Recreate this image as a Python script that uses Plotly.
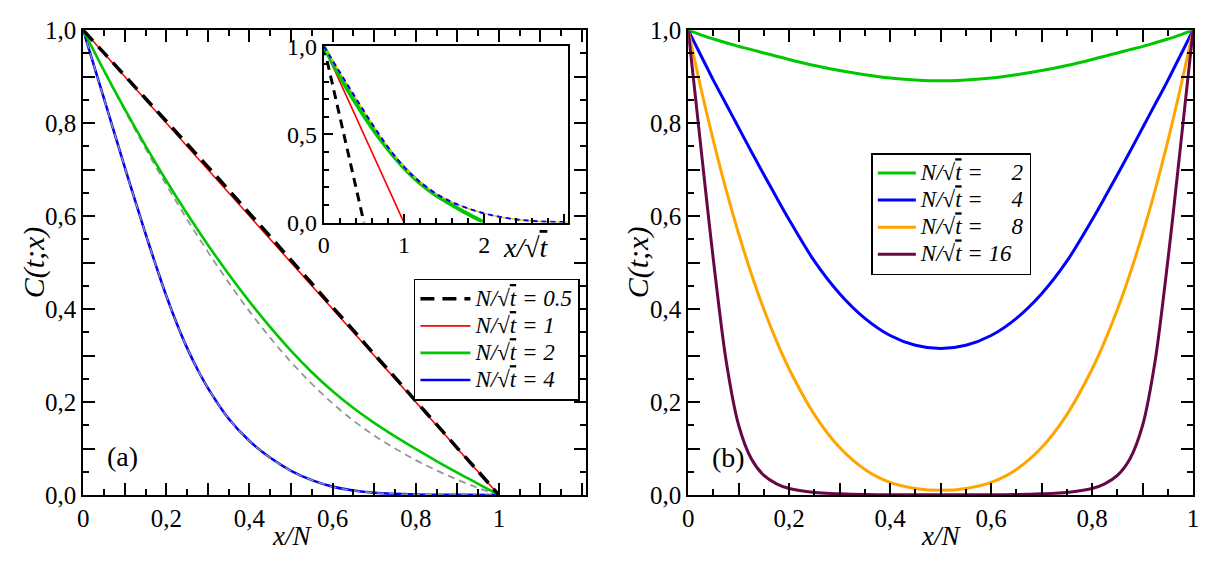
import plotly.graph_objects as go

W, H = 1211, 569
FONT = "Liberation Serif, Times New Roman, Times, DejaVu Serif, serif"

# ---------------- panel (a): C(t;x) vs x/N ----------------
xa = [0.0, 0.05, 0.1, 0.15, 0.2, 0.25, 0.3, 0.35, 0.4, 0.45, 0.5,
      0.55, 0.6, 0.65, 0.7, 0.75, 0.8, 0.85, 0.9, 0.95, 1.0]
ca_05 = [1.0, 0.951, 0.902, 0.853, 0.804, 0.755, 0.706, 0.656, 0.606, 0.556, 0.505,
         0.455, 0.404, 0.354, 0.303, 0.253, 0.202, 0.152, 0.101, 0.051, 0.0]
ca_1 = [1.0, 0.95, 0.9, 0.85, 0.8, 0.75, 0.7, 0.65, 0.6, 0.55, 0.5,
        0.45, 0.4, 0.35, 0.3, 0.25, 0.2, 0.15, 0.1, 0.05, 0.0]
ca_2 = [1.0, 0.913, 0.830, 0.751, 0.676, 0.605, 0.538, 0.475, 0.416, 0.361, 0.310,
        0.264, 0.223, 0.187, 0.155, 0.126, 0.099, 0.073, 0.048, 0.024, 0.0]
ca_2_ref = [1.0, 0.912, 0.827, 0.745, 0.667, 0.593, 0.523, 0.457, 0.395, 0.338, 0.286,
            0.239, 0.197, 0.160, 0.128, 0.100, 0.075, 0.053, 0.033, 0.015, 0.0]
xa4 = [0.0, 0.02, 0.04, 0.06, 0.08, 0.1, 0.12, 0.14, 0.16, 0.18, 0.2, 0.225, 0.25,
       0.275, 0.3, 0.35, 0.4, 0.45, 0.5, 0.55, 0.6, 0.65, 0.7, 0.8, 0.9, 1.0]
ca_4 = [1.0, 0.941, 0.882, 0.823, 0.764, 0.705, 0.647, 0.590, 0.534, 0.480, 0.428, 0.369, 0.316,
        0.270, 0.230, 0.164, 0.116, 0.080, 0.052, 0.032, 0.018, 0.0095, 0.0048, 0.0012, 0.0003, 0.0]
ratios_a = [0.5, 1, 2, 4]  # N/sqrt(t); inset abscissa x/sqrt(t) = ratio * x/N

# ---------------- panel (b): C(t;x) vs x/N ----------------
xb = [0.0, 0.0125, 0.025, 0.0375, 0.05, 0.075, 0.1, 0.125, 0.15, 0.175, 0.2, 0.25,
      0.3, 0.35, 0.4, 0.45, 0.5, 0.55, 0.6, 0.65, 0.7, 0.75, 0.8, 0.825, 0.85,
      0.875, 0.9, 0.925, 0.95, 0.9625, 0.975, 0.9875, 1.0]
cb_2 = [1.0, 0.995, 0.99, 0.985, 0.981, 0.973, 0.965, 0.958, 0.951, 0.944, 0.937, 0.924,
        0.913, 0.904, 0.897, 0.893, 0.891, 0.893, 0.897, 0.904, 0.913, 0.924, 0.937, 0.944,
        0.951, 0.958, 0.965, 0.973, 0.981, 0.985, 0.99, 0.995, 1.0]
cb_4 = [1.0, 0.973, 0.946, 0.919, 0.892, 0.841, 0.790, 0.739, 0.689, 0.640, 0.592, 0.503,
        0.433, 0.380, 0.343, 0.322, 0.315, 0.322, 0.343, 0.380, 0.433, 0.503, 0.592, 0.640,
        0.689, 0.739, 0.790, 0.841, 0.892, 0.919, 0.946, 0.973, 1.0]
cb_8 = [1.0, 0.937, 0.876, 0.818, 0.762, 0.657, 0.562, 0.476, 0.399, 0.331, 0.271, 0.173,
        0.102, 0.055, 0.027, 0.014, 0.01, 0.014, 0.027, 0.055, 0.102, 0.173, 0.271, 0.331,
        0.399, 0.476, 0.562, 0.657, 0.762, 0.818, 0.876, 0.937, 1.0]
cb_16 = [1.0, 0.875, 0.75, 0.625, 0.505, 0.29, 0.15, 0.078, 0.042, 0.024, 0.014, 0.0055,
         0.0025, 0.001, 0.0005, 0.0003, 0.0003, 0.0003, 0.0005, 0.001, 0.0025, 0.0055, 0.014, 0.024,
         0.042, 0.078, 0.15, 0.29, 0.505, 0.625, 0.75, 0.875, 1.0]

# ---------------- ticks ----------------
y_tickvals = [0.0, 0.1, 0.2, 0.3, 0.4, 0.5, 0.6, 0.7, 0.8, 0.9, 1.0]
y_ticktext = ["0,0", "", "0,2", "", "0,4", "", "0,6", "", "0,8", "", "1,0"]
xa_tickvals = [0.0, 0.1, 0.2, 0.3, 0.4, 0.5, 0.6, 0.7, 0.8, 0.9, 1.0, 1.1, 1.2]
xa_ticktext = ["0", "", "0,2", "", "0,4", "", "0,6", "", "0,8", "", "1", "", ""]
xb_tickvals = [0.0, 0.1, 0.2, 0.3, 0.4, 0.5, 0.6, 0.7, 0.8, 0.9, 1.0]
xb_ticktext = ["0", "", "0,2", "", "0,4", "", "0,6", "", "0,8", "", "1"]
in_xtickvals = [0, 1, 2, 3]
in_xticktext = ["0", "1", "2", ""]
in_ytickvals = [0.0, 0.5, 1.0]
in_yticktext = ["0,0", "0,5", "1,0"]

GREEN = "rgb(0,200,0)"
BLUE = "rgb(0,0,255)"
RED = "rgb(255,0,0)"
ORANGE = "rgb(255,165,0)"
MAROON = "rgb(103,7,72)"
GRAY = "rgb(150,150,150)"
YELLOW = "rgb(225,200,0)"

SQ = "√<span style='text-decoration:overline'>t</span>"
def lab(v):
    return "<span style='font-size:23px'><i>N/" + SQ + " = " + v + "</i></span>"

fig = go.Figure()

# panel (a) main curves
fig.add_trace(go.Scatter(x=xa, y=ca_2_ref, mode="lines", showlegend=False,
                         line=dict(color=GRAY, width=1.8, dash="7px,5px", shape="spline")))
fig.add_trace(go.Scatter(x=xa4, y=ca_4, mode="lines", name=lab("4"), legend="legend", legendrank=4,
                         line=dict(color=BLUE, width=2.6, shape="spline")))
fig.add_trace(go.Scatter(x=xa4, y=ca_4, mode="lines", showlegend=False,
                         line=dict(color=GRAY, width=1.3, dash="7px,5px", shape="spline")))
fig.add_trace(go.Scatter(x=xa, y=ca_2, mode="lines", name=lab("2"), legend="legend", legendrank=3,
                         line=dict(color=GREEN, width=2.6, shape="spline")))
fig.add_trace(go.Scatter(x=xa, y=ca_1, mode="lines", name=lab("1"), legend="legend", legendrank=2,
                         line=dict(color=RED, width=1.6)))
fig.add_trace(go.Scatter(x=xa, y=ca_05, mode="lines", name=lab("0.5"), legend="legend", legendrank=1,
                         line=dict(color="black", width=3.5, dash="14px,8px", shape="spline")))

# inset (abscissa x/sqrt(t))
fig.add_trace(go.Scatter(x=[v * ratios_a[0] for v in xa], y=ca_05, mode="lines", showlegend=False,
                         xaxis="x3", yaxis="y3",
                         line=dict(color="black", width=3, dash="9px,6px")))
fig.add_trace(go.Scatter(x=[v * ratios_a[1] for v in xa], y=ca_1, mode="lines", showlegend=False,
                         xaxis="x3", yaxis="y3", line=dict(color=RED, width=1.6)))
fig.add_trace(go.Scatter(x=[v * ratios_a[2] for v in xa], y=ca_2, mode="lines", showlegend=False,
                         xaxis="x3", yaxis="y3", line=dict(color=GREEN, width=4, shape="spline")))
fig.add_trace(go.Scatter(x=[v * ratios_a[3] for v in xa4], y=ca_4, mode="lines", showlegend=False,
                         xaxis="x3", yaxis="y3", line=dict(color=YELLOW, width=1.5, shape="spline")))
fig.add_trace(go.Scatter(x=[v * ratios_a[3] for v in xa4], y=ca_4, mode="lines", showlegend=False,
                         xaxis="x3", yaxis="y3",
                         line=dict(color=BLUE, width=2, dash="5px,4px", shape="spline")))

# panel (b)
for c, col, r, v in [(cb_2, GREEN, 1, "\u2007\u20072"), (cb_4, BLUE, 2, "\u2007\u20074"),
                     (cb_8, ORANGE, 3, "\u2007\u20078"), (cb_16, MAROON, 4, "16")]:
    fig.add_trace(go.Scatter(x=xb, y=c, mode="lines", name=lab(v), legend="legend2", legendrank=r,
                             xaxis="x2", yaxis="y2",
                             line=dict(color=col, width=3, shape="spline", smoothing=0.8)))

tickfont = dict(family=FONT, size=25, color="black")
def main_axis(domain, tv, tt, rng, anchor):
    return dict(domain=domain, range=rng, tickvals=tv, ticktext=tt, ticks="inside",
                ticklen=12, tickwidth=2, tickcolor="black", showline=True, linewidth=2,
                linecolor="black", mirror="ticks", showgrid=False, zeroline=False,
                tickfont=tickfont, anchor=anchor,
                minor=dict(dtick=0.05, tick0=0, ticks="inside", ticklen=6, tickwidth=2,
                           tickcolor="black", showgrid=False))

XA = [78 / W, 586 / W]
XB = [689 / W, 1199 / W]
YD = [1 - 506 / H, 1 - 18 / H]
XI = [321 / W, 568 / W]
YI = [1 - 220 / H, 1 - 35 / H]

ann = []
def a(text, px, py, size, angle=0):
    ann.append(dict(text=text, x=px / W, y=1 - py / H, xref="paper", yref="paper",
                    showarrow=False, textangle=angle, xanchor="center", yanchor="middle",
                    font=dict(family=FONT, size=size, color="black")))

a("<i>C(t;x)</i>", 28, 262, 30, -90)
a("<i>C(t;x)</i>", 638, 262, 30, -90)
a("<i>x/N</i>", 289, 549, 27)
a("<i>x/N</i>", 944, 549, 27)
a("(a)", 118, 466, 28)
a("(b)", 730, 467, 28)
a("<i>x/" + SQ + "</i>", 525, 246, 28)

legfont = dict(family=FONT, size=18.5, color="black")
fig.update_layout(
    width=W, height=H, margin=dict(l=0, r=0, t=0, b=0),
    paper_bgcolor="white", plot_bgcolor="white",
    font=dict(family=FONT, color="black"),
    xaxis=main_axis(XA, xa_tickvals, xa_ticktext, [0, 1.21], "y"),
    yaxis=main_axis(YD, y_tickvals, y_ticktext, [0, 1.0], "x"),
    xaxis2=main_axis(XB, xb_tickvals, xb_ticktext, [0, 1.0], "y2"),
    yaxis2=main_axis(YD, y_tickvals, y_ticktext, [0, 1.0], "x2"),
    xaxis3=dict(domain=XI, range=[0, 3.05], anchor="y3", tickvals=in_xtickvals, ticktext=in_xticktext,
                ticks="inside", ticklen=9, tickwidth=2, tickcolor="black", showline=True,
                linewidth=2, linecolor="black", mirror=True, showgrid=False, zeroline=False,
                tickfont=dict(family=FONT, size=24, color="black"),
                minor=dict(dtick=0.2, tick0=0, ticks="inside", ticklen=5, tickwidth=2,
                           tickcolor="black", showgrid=False)),
    yaxis3=dict(domain=YI, range=[0, 1.0], anchor="x3", tickvals=in_ytickvals, ticktext=in_yticktext,
                ticks="inside", ticklen=9, tickwidth=2, tickcolor="black", showline=True,
                linewidth=2, linecolor="black", mirror=True, showgrid=False, zeroline=False,
                tickfont=dict(family=FONT, size=24, color="black"),
                minor=dict(dtick=0.1, tick0=0, ticks="inside", ticklen=5, tickwidth=2,
                           tickcolor="black", showgrid=False)),
    legend=dict(x=412 / W, y=1 - 279 / H, xanchor="left", yanchor="top", bgcolor="white",
                bordercolor="black", borderwidth=1.5, font=legfont, itemwidth=50,
                tracegroupgap=0, traceorder="normal"),
    legend2=dict(x=874 / W, y=1 - 147 / H, xanchor="left", yanchor="top", bgcolor="white",
                 bordercolor="black", borderwidth=1.5, font=legfont, itemwidth=38,
                 tracegroupgap=0, traceorder="normal"),
    annotations=ann,
)

fig.write_html("out.html")
